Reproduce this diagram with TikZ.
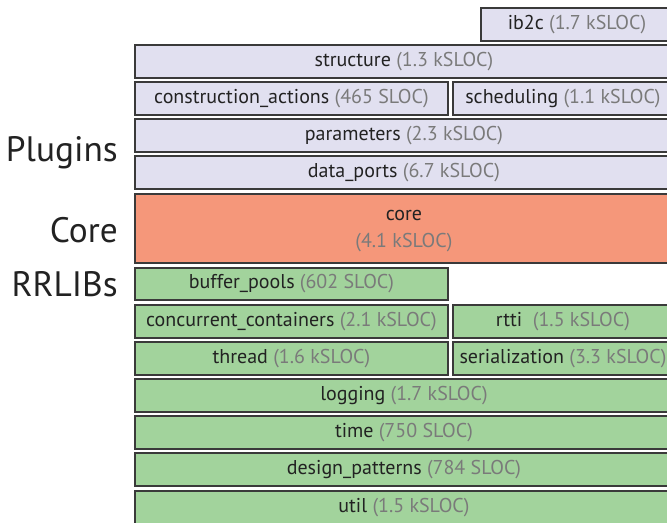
\documentclass[tikz,border=0pt]{standalone}
\usepackage{fontspec}
\setmainfont{PT Sans}
\definecolor{plug}{HTML}{E1E0F0}
\definecolor{corec}{HTML}{F5977A}
\definecolor{rrl}{HTML}{A2D39C}
\definecolor{edge}{HTML}{3A3A3A}
\definecolor{numc}{HTML}{7A7A7A}
\definecolor{txt}{HTML}{222222}
\tikzset{
  box/.style={draw=edge, line width=1.4pt, inner sep=0pt, text=txt, font=\fontsize{15}{17}\selectfont},
  pbox/.style={box, fill=plug},
  cbox/.style={box, fill=corec},
  gbox/.style={box, fill=rrl},
  layer/.style={anchor=east, inner sep=0pt, text=txt, font=\fontsize{26.5}{30}\selectfont},
}
\newcommand{\nm}[1]{\textcolor{numc}{#1}}
% \bx{style}{name}{x1}{y1}{x2}{y2}{text}
\newcommand{\bx}[7]{\node[#1, anchor=north west, minimum width={(#5-#3)*0.75pt}, minimum height={(#6-#4)*0.75pt}] (#2) at (#3,#4) {#7};}
\begin{document}
\begin{tikzpicture}[x=0.75pt, y=-0.75pt]
\useasboundingbox (0,0) rectangle (667,522);
% Plugins
\bx{pbox}{ib2c}{480}{7}{672}{40}{ib2c \nm{(1.7 kSLOC)}}
\bx{pbox}{structure}{134}{44}{672}{77}{structure \nm{(1.3 kSLOC)}}
\bx{pbox}{construction}{134}{81}{447}{114}{construction\_actions \nm{(465 SLOC)}}
\bx{pbox}{scheduling}{452}{81}{672}{114}{scheduling \nm{(1.1 kSLOC)}}
\bx{pbox}{parameters}{134}{118}{672}{151}{parameters \nm{(2.3 kSLOC)}}
\bx{pbox}{dataports}{134}{155}{672}{188}{data\_ports \nm{(6.7 kSLOC)}}
% Core
\node[cbox, anchor=north west, minimum width={538*0.75pt}, minimum height={69*0.75pt}, align=center] (core) at (134,193) {\rule{0pt}{12pt}core\\[3.5pt]\nm{(4.1 kSLOC)}};
% RRLIBs
\bx{gbox}{bufferpools}{134}{267}{447}{299}{buffer\_pools \nm{(602 SLOC)}}
\bx{gbox}{concurrent}{134}{304}{447}{337}{concurrent\_containers \nm{(2.1 kSLOC)}}
\bx{gbox}{rtti}{452}{304}{672}{337}{rtti\ \ \nm{(1.5 kSLOC)}}
\bx{gbox}{thread}{134}{341}{447}{374}{thread \nm{(1.6 kSLOC)}}
\bx{gbox}{serialization}{452}{341}{672}{374}{serialization \nm{(3.3 kSLOC)}}
\bx{gbox}{logging}{134}{378}{672}{411}{logging \nm{(1.7 kSLOC)}}
\bx{gbox}{time}{134}{415}{672}{448}{time \nm{(750 SLOC)}}
\bx{gbox}{design}{134}{452}{672}{485}{design\_patterns \nm{(784 SLOC)}}
\bx{gbox}{util}{134}{490}{672}{524}{util \nm{(1.5 kSLOC)}}
% Layer labels
\node[layer] (lplugins) at (118,153) {Plugins};
\node[layer] (lcore) at (118,230) {Core};
\node[layer] (lrrlibs) at (118,284) {RRLIBs};
\end{tikzpicture}
\end{document}
